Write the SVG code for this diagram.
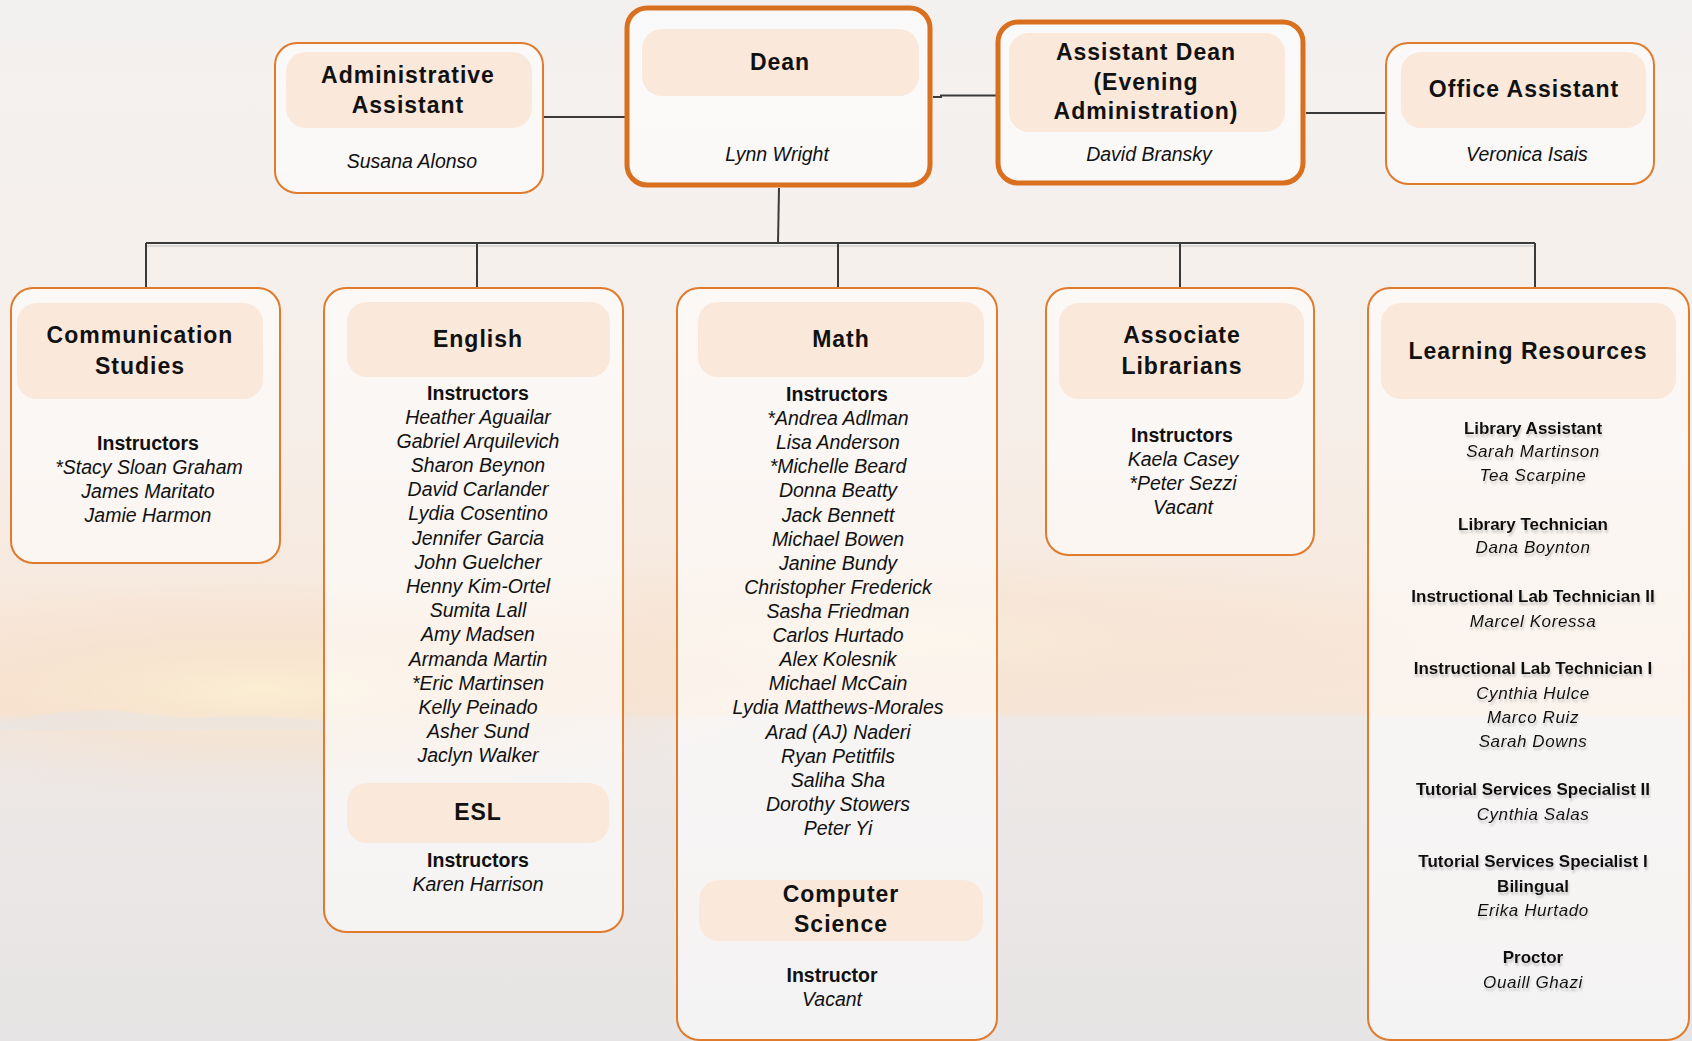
<svg xmlns="http://www.w3.org/2000/svg" width="1692" height="1041" viewBox="0 0 1692 1041">
<defs>
<linearGradient id="sky" x1="0" y1="0" x2="0" y2="1">
<stop offset="0" stop-color="#F3F1F0"/>
<stop offset="0.25" stop-color="#F5F0EC"/>
<stop offset="0.45" stop-color="#F6EDE6"/>
<stop offset="0.6" stop-color="#F7E8DC"/>
<stop offset="0.685" stop-color="#F6E6D8"/>
<stop offset="0.69" stop-color="#EEE9E7"/>
<stop offset="1" stop-color="#E6E4E4"/>
</linearGradient>
<radialGradient id="glow" cx="0.5" cy="0.5" r="0.5">
<stop offset="0" stop-color="#FBEFD2" stop-opacity="0.9"/>
<stop offset="0.5" stop-color="#F7DEC6" stop-opacity="0.5"/>
<stop offset="1" stop-color="#F7DEC6" stop-opacity="0"/>
</radialGradient>
<filter id="sh" x="-10%" y="-30%" width="120%" height="180%">
<feDropShadow dx="1" dy="3" stdDeviation="1.2" flood-color="#777" flood-opacity="0.35"/>
</filter>
<style>
.box{fill:#fff;fill-opacity:.55;stroke:#E07A2C;stroke-width:2}
.boxk{fill:#fff;fill-opacity:.6;stroke:#D9701F;stroke-width:5}
.hdr{fill:#FAE8DA}
.t{font-family:"Liberation Sans",Arial,sans-serif;text-anchor:middle;fill:#111}
.h{font-weight:bold;font-size:23px;letter-spacing:1px}
.n{font-style:italic;font-size:19.5px}
.b{font-weight:bold;font-size:19.5px}
.cb{font-weight:bold;font-size:17px}
.ci{font-style:italic;font-size:17px;letter-spacing:.6px}
.ln{stroke:#3a3a3a;stroke-width:2;fill:none}
.lns{stroke:#d8d8d8;stroke-width:2;fill:none}
</style>
</defs>
<rect width="1692" height="1041" fill="url(#sky)"/>
<ellipse cx="260" cy="690" rx="520" ry="110" fill="url(#glow)"/>
<ellipse cx="900" cy="640" rx="600" ry="90" fill="url(#glow)" opacity="0.5"/>
<path d="M0 722 L60 712 L110 710 L180 718 L260 716 L330 722 L330 730 L0 730 Z" fill="#E9E4E2" opacity="0.6"/>

<g id="connectors">
<path class="lns" d="M146 246 H1535"/>
<path class="ln" d="M543 117 H625"/>
<path class="ln" d="M933 97 H941 V95.5 H997"/>
<path class="ln" d="M1306 113 H1386"/>
<path class="ln" d="M779 188 L778 243"/>
<path class="ln" d="M146 243 H1535" stroke="#5a5a5a"/>
<path class="ln" d="M146 243 V288"/>
<path class="ln" d="M477 243 V288"/>
<path class="ln" d="M838 243 V288"/>
<path class="ln" d="M1180 243 V288"/>
<path class="ln" d="M1535 243 V288" stroke="#777"/>
</g>

<g id="admin-assistant">
<rect class="box" x="275" y="43" width="268" height="150" rx="22"/>
<rect class="hdr" x="286" y="52" width="246" height="76" rx="20"/>
<text class="t h" x="408" y="83">Administrative</text>
<text class="t h" x="408" y="113">Assistant</text>
<text class="t n" x="412" y="168">Susana Alonso</text>
</g>

<g id="dean">
<rect class="boxk" x="627" y="8" width="303" height="177" rx="20"/>
<rect class="hdr" x="642" y="29" width="277" height="67" rx="20"/>
<text class="t h" x="780" y="70">Dean</text>
<text class="t n" x="777" y="161">Lynn Wright</text>
</g>

<g id="assistant-dean">
<rect class="boxk" x="998" y="22" width="305" height="161" rx="20"/>
<rect class="hdr" x="1009" y="33" width="276" height="99" rx="20"/>
<text class="t h" x="1146" y="60">Assistant Dean</text>
<text class="t h" x="1146" y="90">(Evening</text>
<text class="t h" x="1146" y="119">Administration)</text>
<text class="t n" x="1149" y="161">David Bransky</text>
</g>

<g id="office-assistant">
<rect class="box" x="1386" y="43" width="268" height="141" rx="22"/>
<rect class="hdr" x="1401" y="52" width="245" height="76" rx="20"/>
<text class="t h" x="1524" y="97">Office Assistant</text>
<text class="t n" x="1527" y="161">Veronica Isais</text>
</g>

<g id="communication-studies">
<rect class="box" x="11" y="288" width="269" height="275" rx="22"/>
<rect class="hdr" x="17" y="303" width="246" height="96" rx="20"/>
<text class="t h" x="140" y="343">Communication</text>
<text class="t h" x="140" y="374">Studies</text>
<text class="t b" x="148" y="450">Instructors</text>
<text class="t n" x="149" y="474">*Stacy Sloan Graham</text>
<text class="t n" x="148" y="498">James Maritato</text>
<text class="t n" x="148" y="522">Jamie Harmon</text>
</g>

<g id="english">
<rect class="box" x="324" y="288" width="299" height="644" rx="22"/>
<rect class="hdr" x="347" y="302" width="263" height="75" rx="20"/>
<text class="t h" x="478" y="347">English</text>
<text class="t b" x="478" y="400">Instructors</text>
<text class="t n" x="478" y="423.5">Heather Aguailar</text>
<text class="t n" x="478" y="447.7">Gabriel Arquilevich</text>
<text class="t n" x="478" y="471.9">Sharon Beynon</text>
<text class="t n" x="478" y="496.1">David Carlander</text>
<text class="t n" x="478" y="520.3">Lydia Cosentino</text>
<text class="t n" x="478" y="544.5">Jennifer Garcia</text>
<text class="t n" x="478" y="568.7">John Guelcher</text>
<text class="t n" x="478" y="592.9">Henny Kim-Ortel</text>
<text class="t n" x="478" y="617.1">Sumita Lall</text>
<text class="t n" x="478" y="641.3">Amy Madsen</text>
<text class="t n" x="478" y="665.5">Armanda Martin</text>
<text class="t n" x="478" y="689.7">*Eric Martinsen</text>
<text class="t n" x="478" y="713.9">Kelly Peinado</text>
<text class="t n" x="478" y="738.1">Asher Sund</text>
<text class="t n" x="478" y="762.3">Jaclyn Walker</text>
<rect class="hdr" x="347" y="783" width="262" height="60" rx="20"/>
<text class="t h" x="478" y="820">ESL</text>
<text class="t b" x="478" y="867">Instructors</text>
<text class="t n" x="478" y="891">Karen Harrison</text>
</g>

<g id="math">
<rect class="box" x="677" y="288" width="320" height="752" rx="22"/>
<rect class="hdr" x="698" y="302" width="286" height="75" rx="20"/>
<text class="t h" x="841" y="347">Math</text>
<text class="t b" x="837" y="401">Instructors</text>
<text class="t n" x="838" y="425">*Andrea Adlman</text>
<text class="t n" x="838" y="449.1">Lisa Anderson</text>
<text class="t n" x="838" y="473.2">*Michelle Beard</text>
<text class="t n" x="838" y="497.4">Donna Beatty</text>
<text class="t n" x="838" y="521.5">Jack Bennett</text>
<text class="t n" x="838" y="545.6">Michael Bowen</text>
<text class="t n" x="838" y="569.7">Janine Bundy</text>
<text class="t n" x="838" y="593.8">Christopher Frederick</text>
<text class="t n" x="838" y="618">Sasha Friedman</text>
<text class="t n" x="838" y="642.1">Carlos Hurtado</text>
<text class="t n" x="838" y="666.2">Alex Kolesnik</text>
<text class="t n" x="838" y="690.3">Michael McCain</text>
<text class="t n" x="838" y="714.4">Lydia Matthews-Morales</text>
<text class="t n" x="838" y="738.6">Arad (AJ) Naderi</text>
<text class="t n" x="838" y="762.7">Ryan Petitfils</text>
<text class="t n" x="838" y="786.8">Saliha Sha</text>
<text class="t n" x="838" y="810.9">Dorothy Stowers</text>
<text class="t n" x="838" y="835">Peter Yi</text>
<rect class="hdr" x="699" y="880" width="284" height="61" rx="20"/>
<text class="t h" x="841" y="902">Computer</text>
<text class="t h" x="841" y="932">Science</text>
<text class="t b" x="832" y="982">Instructor</text>
<text class="t n" x="832" y="1006">Vacant</text>
</g>

<g id="associate-librarians">
<rect class="box" x="1046" y="288" width="268" height="267" rx="22"/>
<rect class="hdr" x="1059" y="303" width="245" height="96" rx="20"/>
<text class="t h" x="1182" y="343">Associate</text>
<text class="t h" x="1182" y="374">Librarians</text>
<text class="t b" x="1182" y="442">Instructors</text>
<text class="t n" x="1183" y="466">Kaela Casey</text>
<text class="t n" x="1183" y="490">*Peter Sezzi</text>
<text class="t n" x="1183" y="514">Vacant</text>
</g>

<g id="learning-resources">
<rect class="box" x="1368" y="288" width="321" height="752" rx="22"/>
<rect class="hdr" x="1381" y="303" width="295" height="96" rx="20"/>
<text class="t h" x="1528" y="359">Learning Resources</text>
<g filter="url(#sh)">
<text class="t cb" x="1533" y="434">Library Assistant</text>
<text class="t ci" x="1533" y="457">Sarah Martinson</text>
<text class="t ci" x="1533" y="481">Tea Scarpine</text>
<text class="t cb" x="1533" y="530">Library Technician</text>
<text class="t ci" x="1533" y="553">Dana Boynton</text>
<text class="t cb" x="1533" y="602">Instructional Lab Technician II</text>
<text class="t ci" x="1533" y="627">Marcel Koressa</text>
<text class="t cb" x="1533" y="674">Instructional Lab Technician I</text>
<text class="t ci" x="1533" y="699">Cynthia Hulce</text>
<text class="t ci" x="1533" y="723">Marco Ruiz</text>
<text class="t ci" x="1533" y="747">Sarah Downs</text>
<text class="t cb" x="1533" y="795">Tutorial Services Specialist II</text>
<text class="t ci" x="1533" y="820">Cynthia Salas</text>
<text class="t cb" x="1533" y="867">Tutorial Services Specialist I</text>
<text class="t cb" x="1533" y="892">Bilingual</text>
<text class="t ci" x="1533" y="916">Erika Hurtado</text>
<text class="t cb" x="1533" y="963">Proctor</text>
<text class="t ci" x="1533" y="988">Ouaill Ghazi</text>
</g>
</g>
</svg>
